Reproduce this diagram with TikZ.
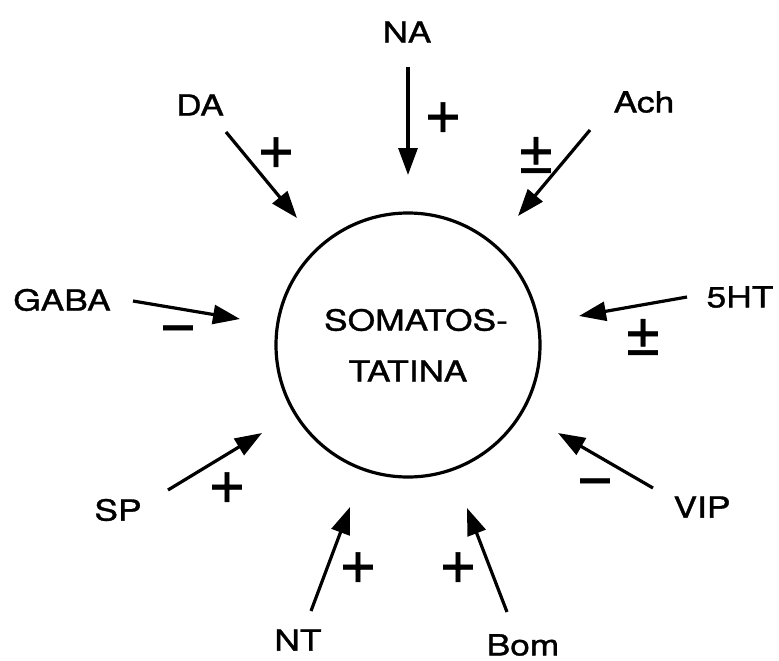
\documentclass[tikz,border=0pt]{standalone}
\usepackage{fontspec}
\setmainfont{TeX Gyre Heros}[FakeStretch=1.22,FakeBold=1.2]
\newfontfamily\signfont{TeX Gyre Heros}[FakeBold=0.6]
\usetikzlibrary{arrows.meta}
\tikzset{
  lbl/.style={inner sep=0pt, font=\fontsize{29}{31}\selectfont},
  sgn/.style={inner sep=0pt, font=\signfont\fontsize{66}{68}\selectfont},
  arr/.style={line width=3.2pt, -{Triangle[length=27pt,width=19pt]}},
}
\begin{document}
\begin{tikzpicture}[x=1pt,y=-1pt]
\useasboundingbox (0,0) rectangle (779,661);
\node[circle, draw, line width=3.2pt, minimum size=264pt, inner sep=0pt] (soma) at (408,345) {};
\node[lbl] (somaA) at (416,320) {SOMATOS-};
\node[lbl] (somaB) at (408,371) {TATINA};
% labels
\node[lbl] (na) at (407,32) {NA};
\node[lbl] (da) at (200,105) {DA};
\node[lbl] (ach) at (644,102) {Ach};
\node[lbl] (gaba) at (62,300) {GABA};
\node[lbl] (ht) at (740,297) {5HT};
\node[lbl] (sp) at (118,510) {SP};
\node[lbl] (vip) at (702,507) {VIP};
\node[lbl] (nt) at (298,640) {NT};
\node[lbl] (bom) at (523,645) {Bom};
% signs
\node[sgn] (naS) at (443,118) {+};
\node[sgn] (daS) at (276,153) {+};
\node[sgn] (achS) at (536,155) {±};
\node[sgn] (gabaS) at (178,335) {−};
\node[sgn] (htS) at (643,337) {±};
\node[sgn] (spS) at (227,488) {+};
\node[sgn] (vipS) at (595,488) {−};
\node[sgn] (ntS) at (358,568) {+};
\node[sgn] (bomS) at (458,568) {+};
% arrow ends
\coordinate (na1) at (408,67);   \coordinate (na2) at (408,175);
\coordinate (da1) at (226,132);  \coordinate (da2) at (297,218);
\coordinate (ach1) at (590,130); \coordinate (ach2) at (518,216);
\coordinate (gaba1) at (133,301);\coordinate (gaba2) at (240,319);
\coordinate (ht1) at (687,297);  \coordinate (ht2) at (579,316);
\coordinate (sp1) at (168,490);  \coordinate (sp2) at (262,433);
\coordinate (vip1) at (653,488); \coordinate (vip2) at (558,433);
\coordinate (nt1) at (311,611);  \coordinate (nt2) at (350,507);
\coordinate (bom1) at (507,612); \coordinate (bom2) at (467,508);
\draw[arr] (na1) -- (na2);
\draw[arr] (da1) -- (da2);
\draw[arr] (ach1) -- (ach2);
\draw[arr] (gaba1) -- (gaba2);
\draw[arr] (ht1) -- (ht2);
\draw[arr] (sp1) -- (sp2);
\draw[arr] (vip1) -- (vip2);
\draw[arr] (nt1) -- (nt2);
\draw[arr] (bom1) -- (bom2);
\end{tikzpicture}
\end{document}
